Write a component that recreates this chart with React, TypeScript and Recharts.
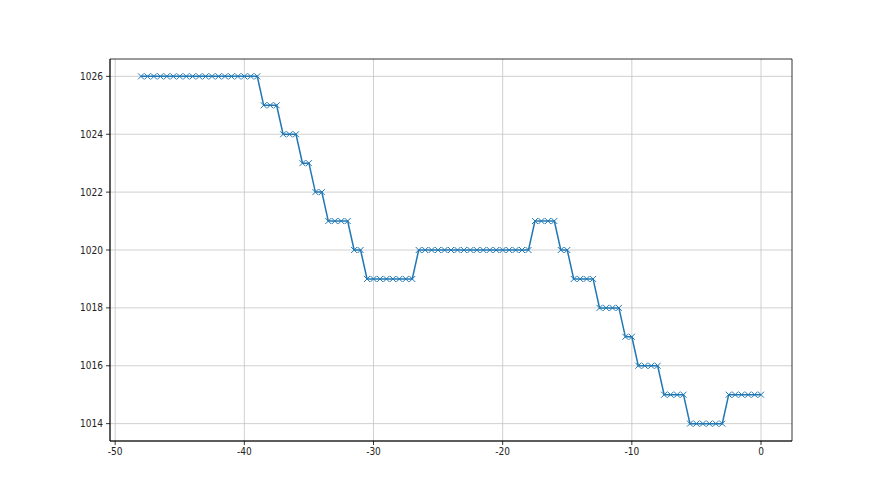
import { LineChart, Line, XAxis, YAxis, CartesianGrid, ReferenceArea } from 'recharts';

// pressure readings, one every half step from -48 to 0
const steps = [
  -48, -47.5, -47, -46.5, -46, -45.5, -45, -44.5, -44, -43.5,
  -43, -42.5, -42, -41.5, -41, -40.5, -40, -39.5, -39, -38.5,
  -38, -37.5, -37, -36.5, -36, -35.5, -35, -34.5, -34, -33.5,
  -33, -32.5, -32, -31.5, -31, -30.5, -30, -29.5, -29, -28.5,
  -28, -27.5, -27, -26.5, -26, -25.5, -25, -24.5, -24, -23.5,
  -23, -22.5, -22, -21.5, -21, -20.5, -20, -19.5, -19, -18.5,
  -18, -17.5, -17, -16.5, -16, -15.5, -15, -14.5, -14, -13.5,
  -13, -12.5, -12, -11.5, -11, -10.5, -10, -9.5, -9, -8.5,
  -8, -7.5, -7, -6.5, -6, -5.5, -5, -4.5, -4, -3.5,
  -3, -2.5, -2, -1.5, -1, -0.5, 0,
];

const pressure = [
  1026, 1026, 1026, 1026, 1026, 1026, 1026, 1026, 1026, 1026,
  1026, 1026, 1026, 1026, 1026, 1026, 1026, 1026, 1026, 1025,
  1025, 1025, 1024, 1024, 1024, 1023, 1023, 1022, 1022, 1021,
  1021, 1021, 1021, 1020, 1020, 1019, 1019, 1019, 1019, 1019,
  1019, 1019, 1019, 1020, 1020, 1020, 1020, 1020, 1020, 1020,
  1020, 1020, 1020, 1020, 1020, 1020, 1020, 1020, 1020, 1020,
  1020, 1021, 1021, 1021, 1021, 1020, 1020, 1019, 1019, 1019,
  1019, 1018, 1018, 1018, 1018, 1017, 1017, 1016, 1016, 1016,
  1016, 1015, 1015, 1015, 1015, 1014, 1014, 1014, 1014, 1014,
  1014, 1015, 1015, 1015, 1015, 1015, 1015,
];

const xTicks = [-50, -40, -30, -20, -10, 0];
const yTicks = [1014, 1016, 1018, 1020, 1022, 1024, 1026];
const xDomain: [number, number] = [-50.4, 2.4];
const yDomain: [number, number] = [1013.4, 1026.6];

const data = steps.map((t, i) => ({ t, p: pressure[i] }));

const BLUE = '#1f77b4';
const tickStyle = { fill: '#222', fontSize: 10, fontFamily: '"Liberation Sans Narrow", "DejaVu Sans Condensed", sans-serif' };

// matplotlib style 'x' marker
const Cross = (props: any) => {
  const { cx, cy } = props;
  if (cx == null || cy == null) return null;
  const r = 3;
  return (
    <g stroke={BLUE} strokeWidth={1}>
      <line x1={cx - r} y1={cy - r} x2={cx + r} y2={cy + r} />
      <line x1={cx - r} y1={cy + r} x2={cx + r} y2={cy - r} />
    </g>
  );
};

export default function App() {
  return (
    <div style={{ position: 'absolute', left: 0, top: 0, width: 880, height: 495, background: '#fff' }}>
      <LineChart width={880} height={495} data={data} margin={{ top: 59, right: 88, left: 70, bottom: 24 }}>
        <CartesianGrid
          stroke="#c4c4c4"
          strokeWidth={0.8}
          horizontalValues={yTicks}
          verticalValues={xTicks}
        />
        <XAxis
          dataKey="t"
          type="number"
          domain={xDomain}
          ticks={xTicks}
          allowDataOverflow
          height={30}
          tick={tickStyle}
          tickSize={4}
          tickMargin={3}
          stroke="#000"
          axisLine={{ stroke: '#000', strokeWidth: 0.8 }}
          tickLine={{ stroke: '#000', strokeWidth: 0.8 }}
        />
        <YAxis
          type="number"
          domain={yDomain}
          ticks={yTicks}
          allowDataOverflow
          width={40}
          tick={tickStyle}
          tickSize={4}
          tickMargin={3}
          stroke="#000"
          axisLine={{ stroke: '#000', strokeWidth: 0.8 }}
          tickLine={{ stroke: '#000', strokeWidth: 0.8 }}
        />
        {/* frame round the plot area */}
        <ReferenceArea
          x1={xDomain[0]}
          x2={xDomain[1]}
          y1={yDomain[0]}
          y2={yDomain[1]}
          fill="none"
          stroke="#000"
          strokeWidth={0.8}
          ifOverflow="visible"
        />
        <Line
          type="linear"
          dataKey="p"
          stroke={BLUE}
          strokeWidth={1.5}
          dot={<Cross />}
          activeDot={false}
          isAnimationActive={false}
        />
      </LineChart>
    </div>
  );
}
